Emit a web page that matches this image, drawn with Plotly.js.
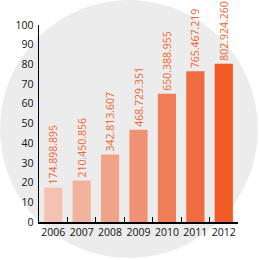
<!DOCTYPE html>
<html>
<head>
<meta charset="utf-8">
<script src="https://cdn.plot.ly/plotly-3.0.1.min.js"></script>
<style>html,body{margin:0;padding:0;background:#fff;}#chart{width:260px;height:260px;}</style>
</head>
<body>
<div id="chart"></div>
<script>
var years = ['2006', '2007', '2008', '2009', '2010', '2011', '2012'];
var amounts = [174898895, 210450856, 342813607, 468729351, 650388955, 765467219, 802924260];
var labels = ['174.898.895', '210.450.856', '342.813.607', '468.729.351', '650.388.955', '765.467.219', '802.924.260'];
var barColors = ['#f3c2b1', '#f2b39e', '#f1a38a', '#f09375', '#ef7d58', '#f06c40', '#f15a24'];
var yTicks = [0, 10, 20, 30, 40, 50, 60, 70, 80, 90, 100];

var yVals = amounts.map(function (v) { return v / 1e7; });

var trace = {
  type: 'bar',
  x: years,
  y: yVals,
  text: labels,
  textposition: 'outside',
  textangle: -90,
  constraintext: 'none',
  cliponaxis: false,
  textfont: {family: 'Open Sans, DejaVu Sans, sans-serif', size: 10.5, color: '#f2652f'},
  marker: {color: barColors, line: {width: 0}},
  hoverinfo: 'none'
};

var layout = {
  width: 260, height: 260,
  margin: {l: 39, r: 22, t: 25, b: 38},
  paper_bgcolor: '#ffffff',
  plot_bgcolor: 'rgba(0,0,0,0)',
  bargap: 0.36,
  showlegend: false,
  font: {family: 'Open Sans, DejaVu Sans, sans-serif', size: 10, color: '#111'},
  xaxis: {
    type: 'category',
    showline: true, linecolor: '#000', linewidth: 1.5,
    ticks: 'inside', tickson: 'boundaries', ticklen: 5, tickcolor: '#000', tickwidth: 1,
    tickangle: 0,
    showgrid: false, zeroline: false,
    tickfont: {size: 10.5, color: '#111'}
  },
  yaxis: {
    range: [0, 100],
    tickvals: yTicks,
    ticktext: yTicks.map(String),
    showline: true, linecolor: '#000', linewidth: 1.5,
    ticks: '', showgrid: false, zeroline: false,
    tickfont: {size: 10.5, color: '#111'},
    ticklabelstandoff: 2
  },
  shapes: [{
    type: 'circle', xref: 'paper', yref: 'paper', layer: 'below',
    x0: -0.196, x1: 1.1, y0: -0.183, y1: 1.127,
    fillcolor: '#ececec', line: {width: 0}
  }]
};

Plotly.newPlot('chart', [trace], layout, {staticPlot: true, displayModeBar: false});
</script>
</body>
</html>
